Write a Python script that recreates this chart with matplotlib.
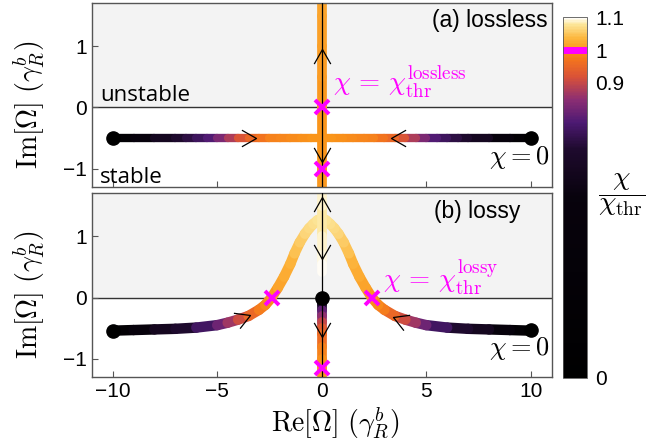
import numpy as np
import matplotlib
matplotlib.use("Agg")
import matplotlib.pyplot as plt
from matplotlib.collections import LineCollection
from matplotlib.colors import LinearSegmentedColormap, Normalize
from matplotlib.cm import ScalarMappable
from matplotlib.markers import MarkerStyle
from matplotlib.path import Path
from matplotlib.transforms import Affine2D

# ---- data ----------------------------------------------------------------
# (a) lossless: modes come in along Im = -0.5 (left half, right half is the mirror)
a_re = [-10, -9, -8, -7, -6.5, -6, -5.5, -5, -4.5, -4, -3.5, -3, -2.5, -2, -1.5, -1, -0.5, 0]
a_im = -0.5
a_chi = [0, 0.42, 0.60, 0.68, 0.71, 0.74, 0.77, 0.80, 0.86, 0.90, 0.94, 0.96, 0.975, 0.985,
         0.99, 0.993, 0.996, 0.998]
# after the exceptional point they split along Re = 0
a_up_im = [-0.5, 0, 0.5, 1.0, 1.5, 1.8]
a_up_chi = [0.998, 1.0, 1.005, 1.01, 1.015, 1.02]
a_dn_im = [-0.5, -1.0, -1.4]
a_dn_chi = [0.998, 1.0, 1.005]

# (b) lossy: curved branch (left half, right half is the mirror)
b_re = [-10, -9, -8, -7, -6, -5, -4.5, -4, -3.5, -3, -2.7, -2.4, -2.1, -1.8, -1.5, -1.3,
        -1.05, -0.8, -0.6, -0.4, -0.2, 0]
b_im = [-0.54, -0.53, -0.52, -0.51, -0.49, -0.45, -0.41, -0.36, -0.30, -0.20, -0.12, 0.0,
        0.16, 0.34, 0.55, 0.72, 0.90, 1.04, 1.13, 1.20, 1.26, 1.29]
b_chi = [0, 0.45, 0.60, 0.67, 0.73, 0.79, 0.84, 0.89, 0.93, 0.97, 0.985, 1.0, 1.01, 1.02,
         1.03, 1.04, 1.05, 1.06, 1.065, 1.07, 1.075, 1.08]
# split at the top of the bump
b_up_im = [1.29, 1.5, 1.8]
b_up_chi = [1.08, 1.085, 1.09]
b_dn_im = [1.29, 1.0, 0.7, 0.55, 0.42]
b_dn_chi = [1.08, 1.085, 1.09, 1.095, 1.1]
# extra mode starting at the origin
b_low_im = [0, -0.1, -0.2, -0.3, -0.4, -0.5, -0.6, -0.8, -1.0, -1.15, -1.4]
b_low_chi = [0, 0.60, 0.77, 0.83, 0.88, 0.92, 0.95, 0.975, 0.99, 1.0, 1.01]

# markers
a_dots = ([-10, 10], [-0.5, -0.5])
a_cross = ([0, 0], [0, -1])
b_dots = ([-10, 10, 0], [-0.54, -0.53, 0])
b_cross = ([-2.4, 2.4, 0], [0, 0, -1.15])
# arrows: x, y, direction (deg)
a_arrows = [(-3.15, -0.5, 0), (3.3, -0.5, 180), (0, 0.96, 90), (0, -0.89, -90)]
b_arrows = [(-3.45, -0.29, 22), (3.4, -0.31, 158), (0, 1.64, 90), (0, 0.63, -90), (0, -0.64, -90)]

cb_ticks = [0, 0.9, 1.0, 1.1]
cb_labels = ["0", "0.9", "1", "1.1"]

# ---- colours -------------------------------------------------------------
cmap = LinearSegmentedColormap.from_list("chi", [
    (0.0, (0, 0, 0)),
    (0.55 / 1.1, (0.03, 0.01, 0.05)),
    (0.70 / 1.1, (0.12, 0.04, 0.18)),
    (0.78 / 1.1, (0.30, 0.10, 0.45)),
    (0.85 / 1.1, (0.55, 0.18, 0.45)),
    (0.92 / 1.1, (0.85, 0.32, 0.22)),
    (0.97 / 1.1, (0.95, 0.45, 0.12)),
    (1.00 / 1.1, (0.98, 0.58, 0.10)),
    (1.04 / 1.1, (0.99, 0.72, 0.25)),
    (1.08 / 1.1, (0.99, 0.90, 0.60)),
    (1.0, (1.0, 0.99, 0.96)),
])
norm = Normalize(0, 1.1)
MAG = "#ff00ff"

plt.rcParams["font.family"] = ["Liberation Sans", "DejaVu Sans"]
plt.rcParams["mathtext.fontset"] = "cm"


def colored_path(ax, x, y, c, lw):
    pts = np.column_stack([np.asarray(x, float), np.asarray(y, float)])
    c = np.asarray(c, float)
    segs = np.stack([pts[:-1], pts[1:]], axis=1)
    lc = LineCollection(segs, cmap=cmap, norm=norm, linewidths=lw, capstyle="round", zorder=2)
    lc.set_array(0.5 * (c[:-1] + c[1:]))
    ax.add_collection(lc)


chev = Path([(-1.76, 1), (0, 0), (-1.76, -1)], [Path.MOVETO, Path.LINETO, Path.LINETO])


def arrows(ax, lst):
    for x, y, ang in lst:
        m = MarkerStyle(chev, transform=Affine2D().rotate_deg(ang))
        ax.plot([x], [y], marker=m, ms=21, mfc="none", mec="black", mew=0.9, zorder=5)


def setup(ax):
    ax.set_xlim(-11, 11)
    ax.set_ylim(-1.3, 1.7)
    ax.axhspan(0, 1.7, color="#f3f3f3", zorder=0)
    ax.axhline(0, color="#333333", lw=1.0, zorder=1)
    ax.axvline(0, color="black", lw=0.9, zorder=3)
    ax.set_yticks([-1, 0, 1])
    ax.set_xticks([-10, -5, 0, 5, 10])
    ax.tick_params(direction="in", length=4, labelsize=15, color="#555555",
                   top=False, right=False)
    for s in ax.spines.values():
        s.set_color("#555555")
        s.set_linewidth(1.0)
    ax.set_ylabel(r"$\mathrm{Im}[\Omega]\ (\gamma_R^b)$", fontsize=20)
    ax.yaxis.set_label_coords(-0.097, 0.45)


fig = plt.figure(figsize=(6.67, 4.47), dpi=100)
ax1 = fig.add_axes([0.1375, 0.5817, 0.6897, 0.411])
ax2 = fig.add_axes([0.1375, 0.156, 0.6897, 0.4116])
cax = fig.add_axes([0.8445, 0.155, 0.0351, 0.806])

# ---- (a) lossless ----
setup(ax1)
ax1.tick_params(labelbottom=False)
are = np.asarray(a_re, float)
colored_path(ax1, are, np.full(len(are), a_im), a_chi, 6)
colored_path(ax1, -are, np.full(len(are), a_im), a_chi, 6)
colored_path(ax1, np.zeros(len(a_up_im)), a_up_im, a_up_chi, 7)
colored_path(ax1, np.zeros(len(a_dn_im)), a_dn_im, a_dn_chi, 7)
arrows(ax1, a_arrows)
ax1.plot(*a_dots, "o", color="black", ms=9.5, zorder=6)
ax1.plot(*a_cross, "x", color=MAG, ms=9.5, mew=2.8, zorder=7)
ax1.text(-10.6, 0.11, "unstable", fontsize=16, family="Open Sans")
ax1.text(-10.6, -1.23, "stable", fontsize=16, family="Open Sans")
ax1.text(5.25, 1.31, "(a) lossless", fontsize=16.5)
ax1.text(0.55, 0.28, r"$\chi\, =\, \chi_{\rm thr}^{\rm lossless}$", color=MAG, fontsize=19.5)
ax1.text(10.9, -0.93, r"$\chi = 0$", fontsize=19, ha="right")

# ---- (b) lossy ----
setup(ax2)
bre = np.asarray(b_re, float)
colored_path(ax2, bre, b_im, b_chi, 7.5)
colored_path(ax2, -bre, b_im, b_chi, 7.5)
colored_path(ax2, np.zeros(len(b_up_im)), b_up_im, b_up_chi, 7)
colored_path(ax2, np.zeros(len(b_dn_im)), b_dn_im, b_dn_chi, 7)
colored_path(ax2, np.zeros(len(b_low_im)), b_low_im, b_low_chi, 7)
arrows(ax2, b_arrows)
ax2.plot(*b_dots, "o", color="black", ms=9.5, zorder=6)
ax2.plot(*b_cross, "x", color=MAG, ms=9.5, mew=2.8, zorder=7)
ax2.text(5.35, 1.29, "(b) lossy", fontsize=16.5)
ax2.text(2.95, 0.17, r"$\chi\, =\, \chi_{\rm thr}^{\rm lossy}$", color=MAG, fontsize=19.5)
ax2.text(10.9, -0.94, r"$\chi = 0$", fontsize=19, ha="right")
ax2.set_xlabel(r"$\mathrm{Re}[\Omega]\ (\gamma_R^b)$", fontsize=20)
ax2.xaxis.set_label_coords(0.53, -0.15)

# ---- colour bar ----
cb = fig.colorbar(ScalarMappable(norm=norm, cmap=cmap), cax=cax, ticks=cb_ticks)
cb.ax.set_yticklabels(cb_labels)
cb.ax.tick_params(length=0, labelsize=15, pad=6)
cb.outline.set_edgecolor("#555555")
cb.outline.set_linewidth(0.6)
cax.axhline(1.0, color=MAG, lw=5)
fig.text(0.932, 0.564, r"$\dfrac{\chi}{\chi_{\rm thr}}$", fontsize=20, ha="center", va="center")

fig.savefig("out.png", dpi=100)
